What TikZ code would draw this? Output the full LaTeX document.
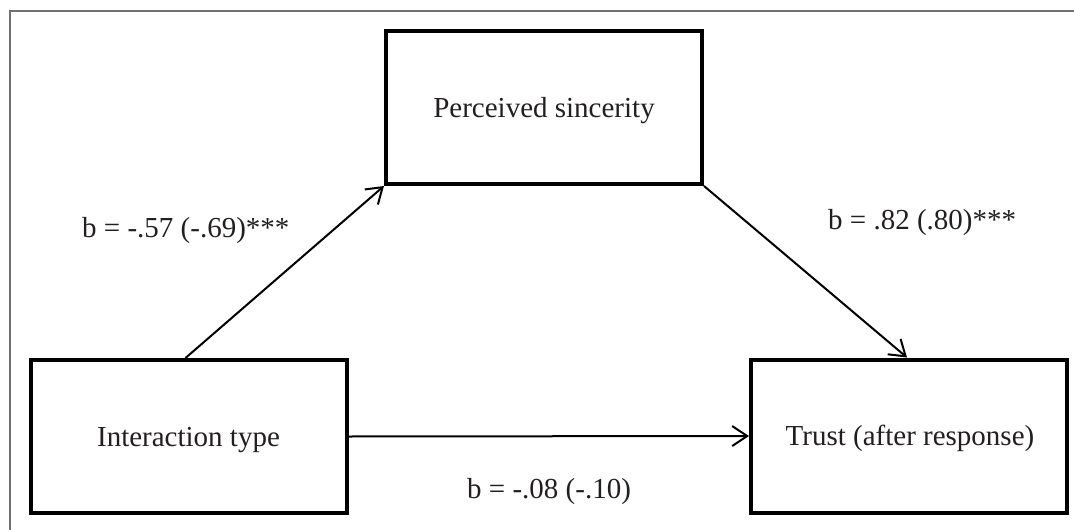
\documentclass[tikz,border=0pt]{standalone}
\usepackage{fontspec}
\setmainfont{Liberation Serif}
\usetikzlibrary{arrows.meta}
\definecolor{txt}{HTML}{231F20}
\definecolor{frame}{HTML}{707070}
\tikzset{
  varbox/.style={draw=black, line width=4pt, minimum width=316pt, minimum height=153pt, inner sep=0pt},
  boxtext/.style={text=txt, font=\fontsize{29}{34}\selectfont, inner sep=0pt, anchor=base},
  coef/.style={text=txt, font=\fontsize{29}{34}\selectfont, inner sep=0pt, anchor=base west},
  path/.style={draw=black, line width=2pt, -{Straight Barb[length=15pt,width=20pt]}}
}
\begin{document}
\begin{tikzpicture}[x=1pt,y=-1pt]
\useasboundingbox (0,0) rectangle (1074,530);
\fill[white] (0,0) rectangle (1074,530);
\draw[frame, line width=1.4pt] (10,530) -- (10,11) -- (1074,11);

\node[varbox] (ps) at (544,107.5) {};
\node[varbox] (ia) at (188.5,436.5) {};
\node[varbox] (tr) at (909,436) {};

\node[boxtext] (pst) at (544,117) {Perceived sincerity};
\node[boxtext] (iat) at (188.5,446) {Interaction type};
\node[boxtext] (trt) at (910,445) {Trust (after response)};

\draw[path] ([xshift=-3pt]ia.north) -- (ps.south west);
\draw[path] (ps.south east) -- ([xshift=-2pt]tr.north);
\draw[path] (ia.east) -- (tr.west);

\node[coef] (la) at (82,237) {b = -.57 (-.69)***};
\node[coef] (lb) at (828,229) {b = .82 (.80)***};
\node[coef] (lc) at (467,498) {b = -.08 (-.10)};
\end{tikzpicture}
\end{document}
